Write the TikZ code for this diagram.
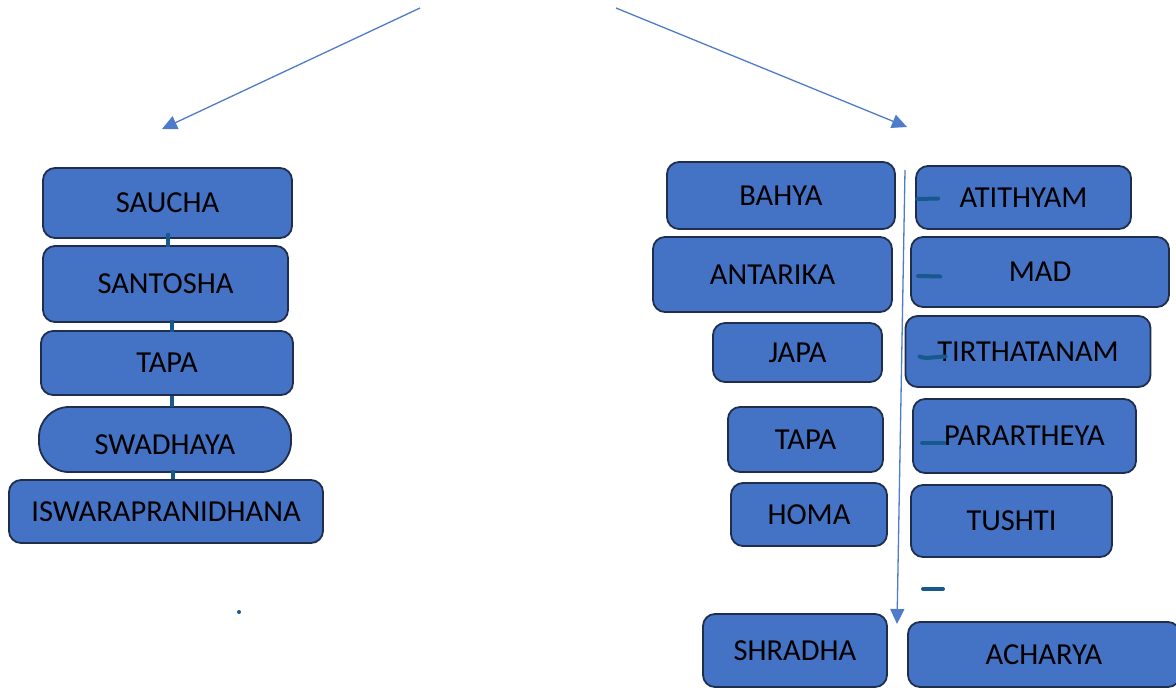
\documentclass[tikz,border=0pt]{standalone}
\usepackage{fontspec}
\setmainfont{Carlito}
\usetikzlibrary{arrows.meta}
\definecolor{boxfill}{HTML}{4472C4}
\definecolor{boxline}{HTML}{1F2E4D}
\definecolor{markblue}{HTML}{17598C}
\definecolor{arrowblue}{HTML}{4F7BCB}
\tikzset{
  box/.style={draw=boxline, line width=1.8pt, fill=boxfill, rounded corners=12pt,
    text=black, font=\fontsize{30.5}{36}\selectfont, text height=19.5pt, text depth=0pt,
    inner sep=0pt, anchor=center},
  link/.style={draw=markblue, line width=4.5pt},
  tick/.style={draw=markblue, line width=4pt, line cap=round},
  flow/.style={draw=arrowblue, line width=1.3pt, -{Triangle[length=15pt,width=14pt]}}
}
\newcommand{\bx}[7]{\node[box, minimum width=#3pt, minimum height=#4pt, #7] (#5) at (#1,#2) {#6};}
\begin{document}
\begin{tikzpicture}[x=1pt,y=-1pt]
\useasboundingbox (0,0) rectangle (1176,688);
\clip (0,0) rectangle (1176,688);
% left column
\bx{167.5}{203}{249}{70}{saucha}{SAUCHA}{}
\bx{165.5}{284}{245}{76}{santosha}{SANTOSHA}{}
\bx{167}{363}{252}{64}{tapaL}{TAPA}{}
\bx{165}{439.5}{252}{65}{swadhaya}{\raisebox{-5pt}{SWADHAYA}}{rounded corners=30pt}
\bx{166}{511.5}{314}{63}{iswara}{ISWARAPRANIDHANA}{}
\draw[link, shorten <=-6pt, shorten >=-2pt] ([xshift=0.5pt]saucha.south) -- ([xshift=2.5pt]santosha.north);
\draw[link, shorten <=-3pt, shorten >=-2pt] ([xshift=6.5pt]santosha.north |- santosha.south) -- ([xshift=5pt]tapaL.north);
\draw[link, shorten <=0pt, shorten >=-1pt] ([xshift=5pt]tapaL.south) -- ([xshift=7pt]swadhaya.north);
\draw[link, shorten <=-3pt, shorten >=0pt] ([xshift=8pt]swadhaya.south) -- ([xshift=7pt]iswara.north);
\fill[markblue] (239,612) circle (2pt);
% right inner column
\bx{781}{195.5}{228}{67}{bahya}{BAHYA}{}
\bx{772.5}{274.5}{239}{75}{antarika}{ANTARIKA}{}
\bx{797.5}{352.5}{169}{59}{japa}{JAPA}{}
\bx{805.5}{439.5}{155}{65}{tapaR}{TAPA}{}
\bx{809}{514.5}{156}{63}{homa}{HOMA}{}
\bx{795}{650.5}{184}{73}{shradha}{SHRADHA}{}
% right outer column
\bx{1023.5}{197.5}{215}{63}{atithyam}{ATITHYAM}{}
\bx{1040}{272}{258}{70}{mad}{MAD}{}
\bx{1028}{351.5}{245}{71}{tirtha}{TIRTHATANAM}{}
\bx{1024.5}{436}{223}{74}{parartheya}{PARARTHEYA}{}
\bx{1011.5}{521}{201}{72}{tushti}{TUSHTI}{}
\bx{1044}{654.5}{272}{65}{acharya}{ACHARYA}{}
% tick marks
\draw[tick] ([xshift=2pt,yshift=-1.5pt]atithyam.west) -- ++(21,-0.5);
\draw[tick] ([xshift=8pt,yshift=-4pt]mad.west) -- ++(22,0.5);
\draw[tick] ([xshift=15pt,yshift=-5pt]tirtha.west) .. controls +(6,3) and +(-10,0) .. ++(26,0);
\draw[tick] ([xshift=10pt,yshift=-7pt]parartheya.west) -- ++(22,0);
\coordinate (freetick) at (923,589);
\draw[tick] (freetick) -- ++(20,0);
% arrows
\coordinate (topL) at (420,8);
\coordinate (endL) at (162,129);
\coordinate (topR) at (616,8);
\coordinate (endR) at (907,127);
\coordinate (vtop) at (905,170);
\coordinate (vend) at (897,624);
\draw[flow] (topL) -- (endL);
\draw[flow] (topR) -- (endR);
\draw[flow] (vtop) -- (vend);
\end{tikzpicture}
\end{document}
